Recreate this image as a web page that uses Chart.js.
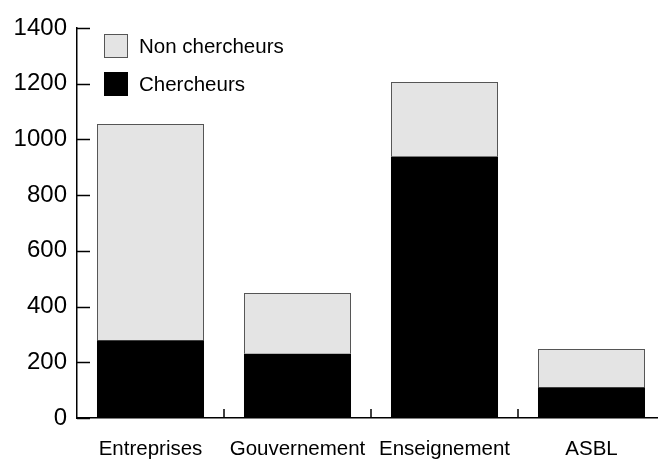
<!DOCTYPE html>
<html>
<head>
<meta charset="utf-8">
<script src="https://cdn.jsdelivr.net/npm/chart.js@4.4.0/dist/chart.umd.min.js"></script>
<style>
  html, body { margin: 0; padding: 0; background: #fff; overflow: hidden; }
  #wrap { width: 658px; height: 459px; overflow: hidden; }
</style>
</head>
<body>
<div id="wrap"><canvas id="rdChart" width="670" height="459"></canvas></div>
<script>
const categories = ['Entreprises', 'Gouvernement', 'Enseignement', 'ASBL'];
const chercheurs = [279, 231, 939, 110];
const nonChercheurs = [776, 218, 267, 138];
const yTicks = [0, 200, 400, 600, 800, 1000, 1200, 1400];

const fontName = '"Liberation Sans", Arial, sans-serif';

// ticks drawn inside the plot, plus a small legend in the top left corner
const extras = {
  id: 'extras',
  afterDraw(chart) {
    const ctx = chart.ctx;
    const x = chart.scales.x, y = chart.scales.y;
    const area = chart.chartArea;
    ctx.save();
    ctx.strokeStyle = '#000';
    ctx.lineWidth = 1.5;
    yTicks.forEach(v => {
      const py = Math.round(y.getPixelForValue(v)) + 0.5;
      ctx.beginPath();
      ctx.moveTo(area.left, py);
      ctx.lineTo(area.left + 13, py);
      ctx.stroke();
    });
    for (let i = 1; i < categories.length; i++) {
      const px = Math.round((x.getPixelForValue(i - 1) + x.getPixelForValue(i)) / 2);
      ctx.beginPath();
      ctx.moveTo(px, area.bottom);
      ctx.lineTo(px, area.bottom - 9);
      ctx.stroke();
    }
    // legend
    const items = [chart.data.datasets[1], chart.data.datasets[0]];
    ctx.font = '20.5px ' + fontName;
    ctx.textBaseline = 'middle';
    items.forEach((ds, i) => {
      const bx = area.left + 27, by = area.top + 6 + i * 38;
      ctx.fillStyle = ds.backgroundColor;
      ctx.fillRect(bx, by, 24, 24);
      if (ds.borderWidth) {
        ctx.strokeStyle = ds.borderColor;
        ctx.lineWidth = 1;
        ctx.strokeRect(bx + 0.5, by + 0.5, 23, 23);
      }
      ctx.fillStyle = '#000';
      ctx.fillText(ds.label, bx + 35, by + 13);
    });
    ctx.restore();
  }
};

new Chart(document.getElementById('rdChart'), {
  type: 'bar',
  data: {
    labels: categories,
    datasets: [
      {
        label: 'Chercheurs',
        data: chercheurs,
        backgroundColor: '#000000',
        borderWidth: 0
      },
      {
        label: 'Non chercheurs',
        data: nonChercheurs,
        backgroundColor: '#e4e4e4',
        borderColor: '#555555',
        borderWidth: 1
      }
    ]
  },
  options: {
    responsive: false,
    animation: false,
    layout: { padding: { left: 0, right: 5, top: 28, bottom: 0 } },
    categoryPercentage: 1.0,
    barPercentage: 0.728,
    plugins: {
      legend: { display: false },
      tooltip: { enabled: false }
    },
    scales: {
      x: {
        stacked: true,
        grid: { display: false, drawTicks: false },
        border: { display: true, color: '#000', width: 1.5 },
        ticks: {
          color: '#000',
          padding: 19,
          font: { family: fontName, size: 20.5 }
        },
        afterFit(scale) { scale.height = 41; }
      },
      y: {
        stacked: true,
        min: 0,
        max: 1400,
        grid: { display: false, drawTicks: false },
        border: { display: true, color: '#000', width: 1.5 },
        ticks: {
          stepSize: 200,
          color: '#000',
          padding: 10,
          font: { family: fontName, size: 24 },
          callback: v => String(v)
        },
        afterFit(scale) { scale.width = 77; }
      }
    }
  },
  plugins: [extras]
});
</script>
</body>
</html>
